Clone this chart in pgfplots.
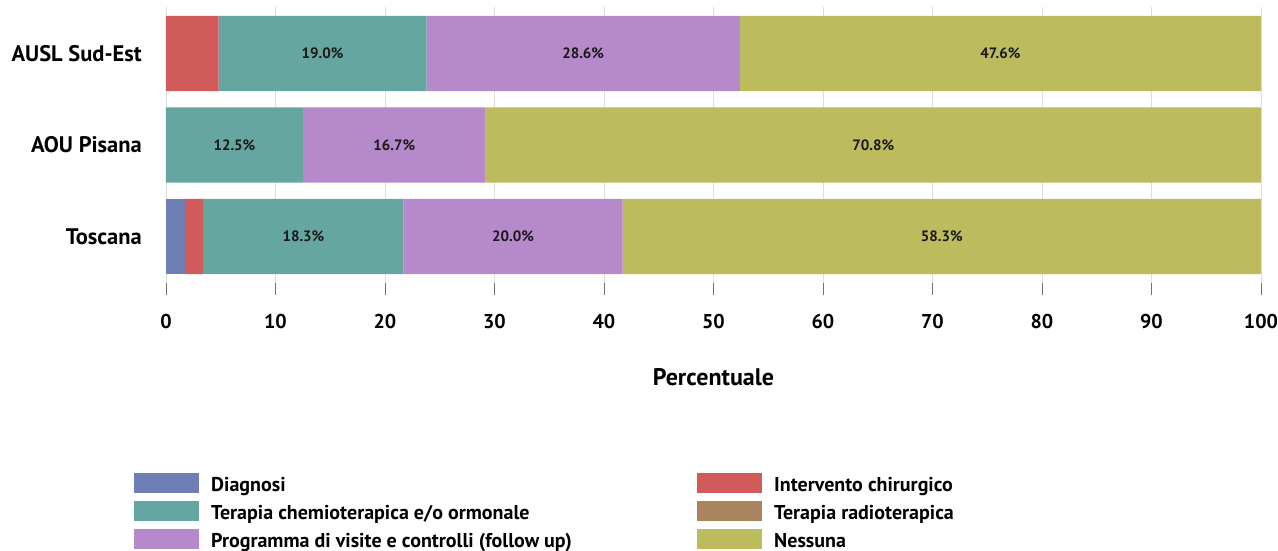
\documentclass[border=0pt]{standalone}
\usepackage{fontspec}
\setmainfont{PT Sans}
\usepackage{pgfplots}
\usepackage{pgfplotstable}
\pgfplotsset{compat=1.18}

\definecolor{cDiag}{HTML}{6F7FB5}
\definecolor{cInt}{HTML}{D15B5B}
\definecolor{cChemio}{HTML}{66A6A0}
\definecolor{cRadio}{HTML}{A8855C}
\definecolor{cProg}{HTML}{B689CB}
\definecolor{cNess}{HTML}{BCBB5D}

% percent of patients per type of care; rows bottom to top
\pgfplotstableread{
pos diag interv chemio radio prog ness
0   1.7  1.7    18.3   0     20.0 58.3
1   0    0      12.5   0     16.7 70.8
2   0    4.8    19.0   0     28.6 47.6
}\data

\newcommand{\fs}[1]{\bfseries\fontsize{#1}{#1}\selectfont}

\begin{document}
\begin{tikzpicture}
  \useasboundingbox (0,0) rectangle (1278pt,551pt);
  \begin{axis}[
      at={(166pt,268pt)}, anchor=south west,
      scale only axis,
      width=1095pt, height=276pt,
      xbar stacked,
      bar width=0.82,
      xmin=0, xmax=100,
      ymin=-0.508, ymax=2.508,
      xtick={0,10,...,100},
      ytick={0,1,2},
      yticklabels={Toscana, AOU Pisana, AUSL Sud-Est},
      axis line style={draw=none},
      xmajorgrids,
      major grid style={color=black!13, line width=0.8pt},
      tick align=outside,
      major tick length=12pt,
      xtick pos=left,
      xtick style={color=black!55, line width=0.9pt},
      ytick style={draw=none},
      /pgf/number format/assume math mode=true,
      xticklabel style={font=\fs{20}, inner sep=0pt, yshift=-19pt},
      yticklabel style={font=\fs{22.5}, inner sep=0pt, anchor=east, xshift=-12pt},
      xlabel={Percentuale},
      xlabel style={font=\fs{24}, inner sep=0pt, at={(axis description cs:0.5,-0.3406)}, anchor=center},
      legend columns=2,
      legend style={at={(axis description cs:-0.0292,-0.688)}, anchor=north west,
        draw=none, inner sep=0pt, column sep=12pt, row sep=8pt,
        font=\fs{20}, cells={anchor=west}, nodes={inner sep=0pt}},
      sw/.style={fill=#1, draw=none,
        legend image code/.code={\fill[#1] (0pt,-8pt) rectangle (65pt,12pt);}},
      % value label in the middle of its segment
      lab/.style={
        visualization depends on={\thisrow{#1} \as \val},
        nodes near coords={\pgfmathprintnumber[fixed,fixed zerofill,precision=1]{\val}\%},
        every node near coord/.style={font=\fs{15}, color=black!90, anchor=center}},
    ]
    \addplot[sw=cDiag] table[x=diag, y=pos] {\data};
    \addlegendentry{\makebox[474pt][l]{Diagnosi}}
    \addplot[sw=cInt] table[x=interv, y=pos] {\data};
    \addlegendentry{Intervento chirurgico}
    \addplot[sw=cChemio, lab=chemio] table[x=chemio, y=pos] {\data};
    \addlegendentry{\makebox[474pt][l]{Terapia chemioterapica e/o ormonale}}
    \addplot[sw=cRadio] table[x=radio, y=pos] {\data};
    \addlegendentry{Terapia radioterapica}
    \addplot[sw=cProg, lab=prog] table[x=prog, y=pos] {\data};
    \addlegendentry{\makebox[474pt][l]{Programma di visite e controlli (follow up)}}
    \addplot[sw=cNess, lab=ness] table[x=ness, y=pos] {\data};
    \addlegendentry{Nessuna}
  \end{axis}
\end{tikzpicture}
\end{document}
